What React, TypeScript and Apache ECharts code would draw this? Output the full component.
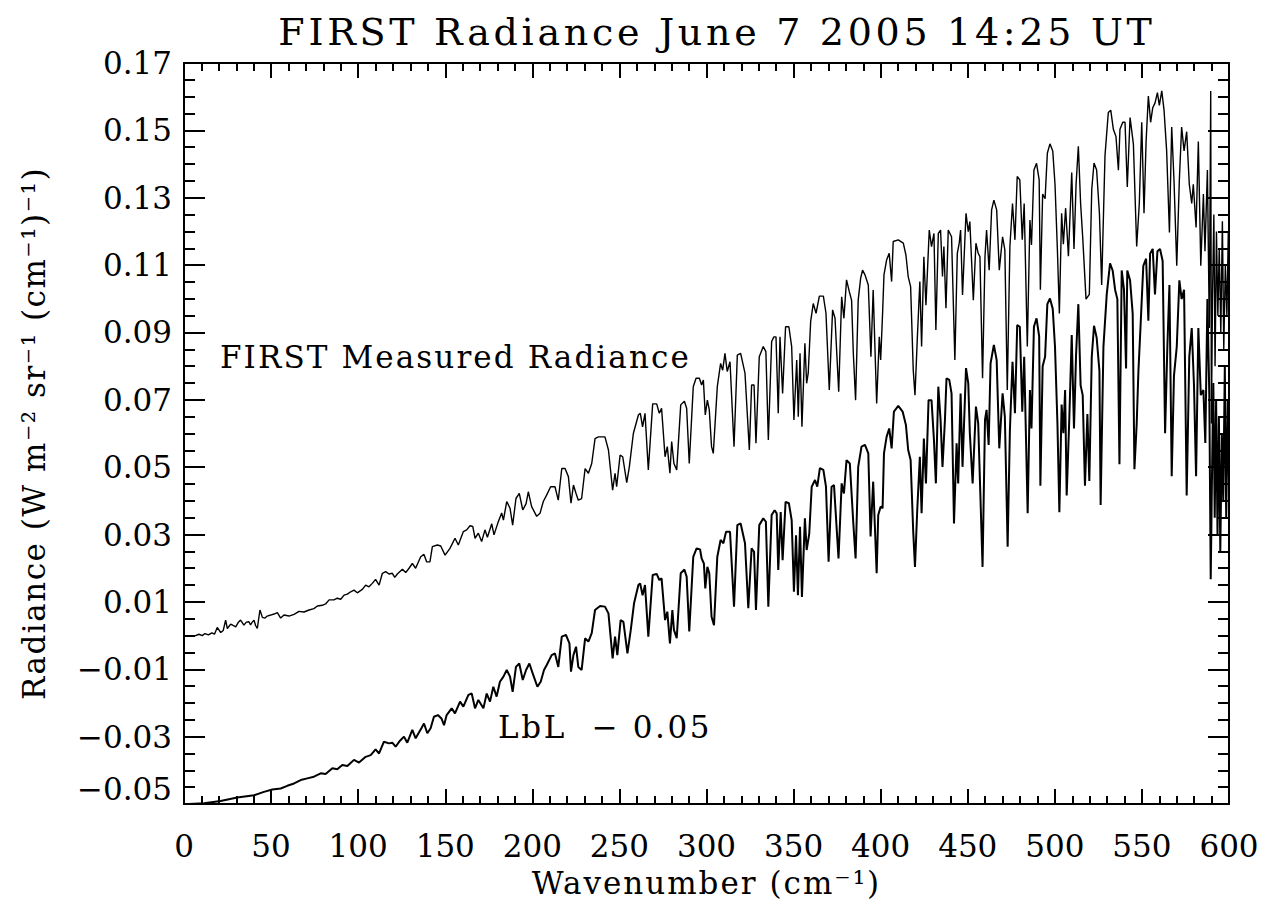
import React, { useEffect, useRef } from "react";
import * as echarts from "echarts";

// Wavenumber range and tick layout (cm^-1)
const xMin = 0;
const xMax = 600;
const xInterval = 50;
const xMinorSplit = 5;

// Radiance axis: -0.05 .. 0.17, labelled every 0.02
const yMin = -0.05;
const yMax = 0.17;
const yInterval = 0.02;
const yMinorSplit = 4;

const titleText = "FIRST Radiance June 7 2005 14:25 UT";
const xName = "Wavenumber (cm\u207B\u00B9)";
const yName = "Radiance (W m\u207B\u00B2 sr\u207B\u00B9 (cm\u207B\u00B9)\u207B\u00B9)";
const measuredLabel = "FIRST Measured Radiance";
const lblLabel = "LbL  \u2212 0.05";

// FIRST measured radiance: [wavenumber, radiance]
const measuredSpectrum: [number, number][] = [
  [0, 0.0], [6.7, 0.0], [8.5, 0.0004], [10.5, 0.0], [12, 0.0006], [14, 0.0002], [16, 0.0008], [17.5, 0.0004],
  [19.1, 0.0024], [21.1, 0.0009], [22.5, 0.0015], [23.9, 0.0046], [24.9, 0.0021], [26.8, 0.0034], [28.2, 0.003],
  [29.7, 0.0026], [31, 0.0038], [32.5, 0.0046], [34.4, 0.0031], [35.8, 0.004], [37.3, 0.0041], [38.2, 0.0032],
  [39.2, 0.004], [40.2, 0.0046], [41.1, 0.003], [42.1, 0.0021], [43.6, 0.0076], [45.0, 0.0054], [46.5, 0.0052],
  [47.8, 0.0058], [49.8, 0.0061], [51.7, 0.0064], [53.6, 0.0068], [55.5, 0.0052], [57.4, 0.0061], [60.3, 0.0058],
  [63.2, 0.0063], [66.0, 0.0072], [68.9, 0.007], [71.8, 0.0076], [74.6, 0.008], [76.6, 0.0088], [79.4, 0.009],
  [81.3, 0.0094], [83.3, 0.0106], [86.1, 0.0106], [88.0, 0.0111], [90.0, 0.0108], [91.9, 0.012], [93.8, 0.0123],
  [95.7, 0.013], [97.6, 0.0135], [99.5, 0.0127], [102.4, 0.0137], [104.3, 0.015], [106.2, 0.0145], [108.1, 0.0155],
  [110.0, 0.0167], [112.0, 0.015], [113.9, 0.0185], [115.8, 0.019], [117.7, 0.0183], [119.6, 0.0185], [121.0, 0.0173],
  [122.5, 0.0183], [125.4, 0.0197], [127.3, 0.0187], [129.2, 0.02], [131.1, 0.0214], [133.0, 0.02], [135.9, 0.0234],
  [137.8, 0.0241], [139.3, 0.0219], [141.2, 0.0219], [142.6, 0.0264], [145.5, 0.0269], [147.4, 0.0266], [149.9, 0.0239],
  [152.7, 0.0259], [155.6, 0.0289], [157.5, 0.0269], [160.4, 0.0309], [162.3, 0.0314], [164.2, 0.0326], [165.8, 0.0324],
  [167.1, 0.0289], [169.0, 0.0304], [170.9, 0.0279], [172.8, 0.0314], [174.2, 0.0292], [176.7, 0.0332], [178.0, 0.0299],
  [180.5, 0.0339], [182.4, 0.0364], [183.4, 0.0343], [185.3, 0.0398], [187.2, 0.0378], [188.7, 0.0328], [190.6, 0.0407],
  [192.5, 0.0422], [194.5, 0.0373], [196.4, 0.0392], [197.7, 0.0427], [199.6, 0.0383], [202.5, 0.0354], [204.4, 0.0363],
  [206.3, 0.0398], [208.2, 0.0417], [210.5, 0.0442], [213.0, 0.0442], [214.9, 0.0402], [216.9, 0.0496], [218.8, 0.0496],
  [220.7, 0.0472], [222.2, 0.0393], [223.6, 0.0447], [225.1, 0.0422], [226.4, 0.0402], [228.3, 0.0407], [230.3, 0.0496],
  [232.2, 0.0482], [234.1, 0.0511], [236.0, 0.0585], [237.9, 0.059], [241.7, 0.059], [243.7, 0.0551], [246.1, 0.0432],
  [247.5, 0.0482], [248.4, 0.0442], [250.4, 0.0536], [251.9, 0.0531], [254.2, 0.0454], [255.7, 0.0501], [258.0, 0.06],
  [260.9, 0.0655], [262.0, 0.066], [263.3, 0.062], [264.7, 0.066], [266.6, 0.0492], [269.1, 0.0688], [271.4, 0.0688],
  [272.9, 0.066], [274.2, 0.0675], [276.2, 0.0531], [277.5, 0.0561], [279.0, 0.0482], [280.0, 0.0576], [281.3, 0.0511],
  [282.9, 0.0492], [285.2, 0.0685], [287.3, 0.0696], [288.6, 0.0675], [290.1, 0.0511], [292.4, 0.0739], [294.0, 0.0764],
  [295.9, 0.0764], [297.2, 0.0744], [298.2, 0.0759], [299.3, 0.0655], [300.5, 0.0699], [301.6, 0.067], [302.9, 0.0561],
  [303.9, 0.0541], [306.2, 0.0739], [308.1, 0.0808], [309.3, 0.0788], [310.6, 0.0838], [311.9, 0.0784], [313.5, 0.0813],
  [315.8, 0.0561], [317.7, 0.0833], [319.6, 0.0838], [322.1, 0.0779], [324.6, 0.0551], [325.9, 0.0744], [327.3, 0.0744],
  [328.4, 0.0571], [330.3, 0.0828], [332.6, 0.0858], [334.1, 0.0843], [335.5, 0.0581], [337.4, 0.0873], [338.7, 0.0887],
  [339.9, 0.0887], [341.2, 0.066], [342.2, 0.0887], [343.7, 0.0719], [345.4, 0.0917], [347.3, 0.0917], [348.9, 0.0858],
  [350.2, 0.064], [351.8, 0.0818], [352.7, 0.065], [353.7, 0.0838], [354.8, 0.062], [356.5, 0.0868], [357.5, 0.0749],
  [358.4, 0.0779], [359.8, 0.0932], [361.3, 0.0986], [362.9, 0.0957], [364.8, 0.1008], [367.1, 0.1008], [368.6, 0.0957],
  [370.5, 0.0729], [372.4, 0.0967], [373.8, 0.0942], [375.9, 0.0724], [377.6, 0.1006], [378.9, 0.0942], [380.4, 0.1056],
  [382.0, 0.1021], [383.3, 0.0996], [384.3, 0.0838], [385.6, 0.0699], [387.1, 0.0996], [388.5, 0.1061], [389.6, 0.1085],
  [391.0, 0.1071], [392.9, 0.1041], [394.4, 0.0828], [395.7, 0.1026], [397.7, 0.0689], [399.2, 0.0887], [400.0, 0.0818],
  [401.1, 0.0957], [401.9, 0.1071], [403.4, 0.1115], [404.9, 0.1135], [406.3, 0.1051], [407.2, 0.117], [410.1, 0.1175],
  [413.0, 0.1165], [414.5, 0.113], [415.8, 0.1066], [417.2, 0.1036], [418.7, 0.0789], [419.7, 0.0714], [421.0, 0.0877],
  [422.5, 0.1051], [423.5, 0.0858], [424.8, 0.1125], [426.0, 0.0981], [427.9, 0.1204], [429.2, 0.1155], [430.6, 0.1194],
  [431.7, 0.0907], [433.1, 0.1194], [434.4, 0.1204], [435.5, 0.1066], [436.3, 0.1155], [437.5, 0.0972], [438.8, 0.1204],
  [440.7, 0.1184], [442.6, 0.0818], [444.0, 0.1135], [445.1, 0.1165], [445.9, 0.1204], [447.0, 0.1011], [449.0, 0.1254],
  [450.3, 0.1199], [451.2, 0.1229], [453.2, 0.0996], [454.7, 0.1165], [456.0, 0.1135], [457.0, 0.1125], [458.5, 0.0764],
  [459.9, 0.1125], [460.8, 0.1204], [462.3, 0.1085], [463.7, 0.1264], [465.0, 0.1293], [466.6, 0.1264], [468.1, 0.1085],
  [470.0, 0.1184], [471.3, 0.1145], [472.7, 0.0729], [474.2, 0.1155], [475.7, 0.1283], [477.1, 0.1175], [478.4, 0.1363],
  [479.9, 0.1353], [481.3, 0.1175], [482.4, 0.1283], [484.2, 0.0858], [485.7, 0.1234], [486.6, 0.116], [488.0, 0.1382],
  [489.5, 0.1402], [491.0, 0.1353], [491.7, 0.1027], [493.0, 0.1311], [494.4, 0.1297], [495.7, 0.1432], [497.2, 0.146],
  [498.8, 0.1439], [500.1, 0.134], [501.5, 0.1141], [502.6, 0.0956], [503.9, 0.1254], [504.9, 0.1162], [506.2, 0.1269],
  [507.8, 0.1126], [509.7, 0.1375], [511.0, 0.1148], [512.2, 0.134], [513.5, 0.1453], [514.8, 0.1283], [516.0, 0.1183],
  [517.9, 0.0999], [519.8, 0.1013], [521.2, 0.1325], [522.5, 0.1403], [524.0, 0.1382], [525.6, 0.1254], [526.9, 0.1041],
  [528.8, 0.1425], [530.7, 0.1553], [532.1, 0.156], [533.6, 0.1503], [535.1, 0.1482], [536.5, 0.1382], [537.4, 0.1503],
  [539.0, 0.1524], [540.3, 0.1524], [541.6, 0.1332], [543.2, 0.1538], [545.1, 0.146], [547.0, 0.1155], [548.5, 0.1283],
  [549.9, 0.1524], [551.2, 0.1254], [552.4, 0.1467], [553.7, 0.1602], [555.0, 0.1524], [556.2, 0.1567], [557.5, 0.1581],
  [558.9, 0.1612], [560.0, 0.1574], [561.4, 0.1617], [562.7, 0.156], [564.2, 0.1439], [565.8, 0.1197], [567.1, 0.151],
  [568.4, 0.1354], [570.0, 0.1098], [571.5, 0.1354], [572.8, 0.151], [574.2, 0.1439], [575.7, 0.1496], [577.2, 0.134],
  [578.6, 0.1283], [579.5, 0.134], [581.1, 0.1212], [582.4, 0.1467], [583.8, 0.1098], [585.3, 0.1311], [586.2, 0.1141],
  [587.6, 0.1382], [588.7, 0.0913], [589.5, 0.1617], [589.9, 0.063], [590.5, 0.1], [591.3, 0.125], [592.0, 0.08],
  [592.8, 0.12], [593.6, 0.095], [594.4, 0.115], [595.3, 0.09], [596.2, 0.123], [597.0, 0.085], [597.9, 0.11],
  [598.8, 0.095], [599.6, 0.12], [600, 0.1]
];

// Line-by-line model radiance minus 0.05: [wavenumber, radiance - 0.05]
const lblMinus005Spectrum: [number, number][] = [
  [0, -0.0501], [11.5, -0.0498], [21, -0.0491], [30.6, -0.0481], [40.2, -0.0474], [45.9, -0.0464], [50.7, -0.0457],
  [55.5, -0.0454], [59.3, -0.0446], [63.2, -0.0439], [67.0, -0.0429], [70.8, -0.0424], [74.6, -0.0419], [78.5, -0.0409],
  [81.3, -0.0411], [85.2, -0.0394], [88.0, -0.0397], [90.9, -0.0384], [93.8, -0.0387], [97.6, -0.0369], [100.5, -0.0377],
  [104.3, -0.036], [107.2, -0.0355], [110.0, -0.0338], [112.0, -0.035], [114.8, -0.0315], [117.7, -0.032], [119.6, -0.0318],
  [121.5, -0.033], [124.0, -0.0312], [126.3, -0.03], [128.2, -0.0318], [131.1, -0.028], [133.0, -0.0305], [136.3, -0.0275],
  [137.8, -0.0261], [139.7, -0.029], [141.6, -0.0275], [143.5, -0.0241], [145.8, -0.0236], [147.8, -0.0246], [149.3, -0.0266],
  [150.8, -0.0236], [153.7, -0.0216], [155.6, -0.0231], [158.5, -0.0196], [160.4, -0.0211], [163.3, -0.0176], [165.2, -0.0172],
  [167.1, -0.0216], [169.0, -0.0191], [171.9, -0.0216], [173.8, -0.0172], [175.7, -0.0196], [177.6, -0.0152], [179.5, -0.0181],
  [181.4, -0.0137], [183.4, -0.0122], [185.3, -0.0102], [187.2, -0.0122], [188.7, -0.0167], [190.6, -0.0093], [192.5, -0.0083],
  [194.5, -0.0132], [196.4, -0.0102], [198.3, -0.0083], [200.2, -0.0112], [202.9, -0.0152], [204.8, -0.0137], [206.7, -0.0102],
  [208.2, -0.0088], [211.1, -0.0058], [213.0, -0.0053], [214.9, -0.0093], [216.9, -0.0003], [219.3, 0.0002], [221.3, -0.0023],
  [222.2, -0.0107], [223.6, -0.0058], [225.1, -0.0033], [226.4, -0.0093], [228.3, -0.0102], [230.3, -0.0008], [232.2, -0.0018],
  [234.1, 0.0007], [236.0, 0.0076], [238.9, 0.0088], [241.7, 0.0086], [243.7, 0.0066], [246.1, -0.0068], [247.5, -0.0003],
  [248.8, -0.0058], [250.7, 0.0046], [252.3, 0.0041], [254.6, -0.0053], [256.5, 0.0016], [258.4, 0.0096], [260.9, 0.015],
  [261.9, 0.0155], [263.3, 0.012], [264.7, 0.015], [266.6, -0.0003], [269.1, 0.018], [271.4, 0.0183], [272.9, 0.0165],
  [274.2, 0.017], [276.2, 0.0046], [277.5, 0.0071], [279.0, -0.0023], [280.4, 0.0076], [281.3, 0.0017], [282.9, -0.0008],
  [285.2, 0.0185], [287.3, 0.0196], [288.6, 0.0175], [290.1, 0.0012], [292.4, 0.0234], [294.3, 0.0259], [296.3, 0.0256],
  [297.2, 0.0229], [298.5, 0.0214], [299.3, 0.014], [300.5, 0.0204], [301.6, 0.0185], [302.9, 0.0056], [304.3, 0.0031],
  [306.2, 0.0234], [308.1, 0.0284], [309.7, 0.0274], [311.2, 0.0308], [313.5, 0.0308], [315.8, 0.0086], [317.7, 0.0328],
  [319.6, 0.0333], [322.1, 0.0274], [324.0, 0.0081], [325.9, 0.0259], [327.3, 0.0249], [328.4, 0.0076], [330.3, 0.0328],
  [332.6, 0.0348], [334.1, 0.0338], [335.5, 0.0086], [337.4, 0.0358], [339.1, 0.0372], [340.3, 0.0363], [341.2, 0.0195],
  [342.6, 0.0367], [343.7, 0.0224], [345.4, 0.0397], [347.3, 0.0393], [348.9, 0.0343], [350.2, 0.013], [351.4, 0.0298],
  [352.5, 0.012], [353.7, 0.0323], [354.8, 0.0115], [356.5, 0.0348], [357.5, 0.0254], [359.0, 0.0303], [360.4, 0.0442],
  [362.3, 0.0462], [363.6, 0.0442], [365.1, 0.0497], [367.1, 0.0492], [368.6, 0.0442], [370.1, 0.0219], [371.8, 0.0442],
  [373.2, 0.0447], [375.8, 0.0229], [377.6, 0.0452], [378.9, 0.0422], [380.4, 0.0521], [382.3, 0.0511], [384.3, 0.0333],
  [385.6, 0.0229], [387.1, 0.0501], [389.0, 0.0561], [391.0, 0.0566], [392.9, 0.0541], [394.2, 0.0294], [395.7, 0.0457],
  [397.7, 0.0185], [398.6, 0.0358], [400.0, 0.0383], [401.1, 0.0378], [401.9, 0.0541], [403.4, 0.059], [404.9, 0.0615],
  [406.3, 0.0556], [407.6, 0.0665], [410.1, 0.0682], [412.6, 0.0665], [414.5, 0.0625], [415.8, 0.0551], [417.2, 0.0521],
  [418.7, 0.0308], [419.7, 0.0204], [421.0, 0.0373], [422.5, 0.0531], [423.5, 0.0363], [424.8, 0.0585], [426.0, 0.0452],
  [427.5, 0.0699], [429.2, 0.0699], [430.6, 0.058], [431.7, 0.0452], [433.1, 0.0739], [434.4, 0.064], [435.5, 0.0501],
  [436.9, 0.064], [437.8, 0.0764], [439.4, 0.0759], [440.7, 0.0719], [442.1, 0.0333], [443.6, 0.0571], [444.5, 0.0452],
  [445.9, 0.0719], [447.0, 0.0501], [449.0, 0.0794], [450.3, 0.0749], [451.2, 0.06], [452.8, 0.0452], [454.7, 0.068],
  [456.0, 0.063], [458.5, 0.0204], [459.9, 0.064], [460.8, 0.067], [462.0, 0.0566], [463.1, 0.0808], [465.0, 0.0863],
  [466.6, 0.0818], [468.1, 0.0556], [470.0, 0.0719], [471.3, 0.065], [472.9, 0.0264], [474.2, 0.061], [475.7, 0.0813],
  [477.1, 0.066], [478.4, 0.0922], [479.9, 0.0917], [481.3, 0.0665], [482.4, 0.0828], [484.4, 0.0363], [485.7, 0.0729],
  [486.6, 0.0615], [488.0, 0.0917], [489.5, 0.0942], [491.0, 0.0888], [491.7, 0.0445], [493.0, 0.08], [494.4, 0.0828],
  [495.7, 0.0984], [497.2, 0.1001], [498.8, 0.097], [500.1, 0.0857], [501.5, 0.0629], [502.6, 0.0366], [503.9, 0.0686],
  [504.9, 0.0601], [505.9, 0.0729], [506.8, 0.0416], [508.3, 0.0643], [509.7, 0.0892], [511.0, 0.0615], [512.2, 0.0835],
  [513.5, 0.0984], [514.8, 0.0743], [516.0, 0.0714], [517.3, 0.0445], [518.7, 0.0658], [519.8, 0.0459], [521.2, 0.0828],
  [522.5, 0.092], [524.0, 0.0885], [525.6, 0.0786], [526.3, 0.0388], [527.9, 0.0857], [529.8, 0.1013], [531.7, 0.1105],
  [533.2, 0.1084], [534.6, 0.1027], [535.9, 0.0999], [537.1, 0.0509], [538.4, 0.1084], [539.7, 0.1027], [540.9, 0.0793],
  [541.6, 0.1084], [543.2, 0.1055], [544.7, 0.0956], [545.7, 0.0494], [547.0, 0.0629], [548.0, 0.0786], [549.3, 0.0928],
  [550.8, 0.1098], [552.4, 0.1119], [553.7, 0.0935], [554.7, 0.1134], [556.2, 0.1148], [557.5, 0.1013], [558.9, 0.1141],
  [560.4, 0.1148], [561.9, 0.1112], [563.3, 0.0601], [564.6, 0.0857], [565.8, 0.1041], [567.1, 0.0473], [568.4, 0.0771],
  [570.0, 0.0857], [571.5, 0.1055], [572.8, 0.0999], [574.2, 0.1027], [575.7, 0.0416], [577.2, 0.0828], [578.6, 0.0913],
  [579.9, 0.0743], [581.1, 0.0473], [582.4, 0.0913], [583.8, 0.0714], [585.3, 0.0729], [586.4, 0.0572], [587.6, 0.0999],
  [588.7, 0.0714], [589.5, 0.0167], [590.3, 0.05], [591.0, 0.075], [591.8, 0.035], [592.6, 0.07], [593.4, 0.03],
  [594.2, 0.065], [595.0, 0.025], [595.9, 0.06], [596.7, 0.04], [597.6, 0.08], [598.4, 0.035], [599.3, 0.07], [600, 0.045]
];

const FONT = '"DejaVu Serif", "Liberation Serif", serif';
const LINE = "#000000";

// shift so that the axis minimum is a multiple of the tick interval
const shift = -yMin;

function fmtY(v: number): string {
  const r = Math.round((v - shift) * 100) / 100;
  return r < 0 ? "\u2212" + Math.abs(r).toFixed(2) : r.toFixed(2);
}

// extra letter spacing (px) to mimic the wide vector font of the original
const letterSpacing: Record<string, number> = {
  [titleText]: 3.7,
  [measuredLabel]: 2.1,
  [lblLabel]: 2.6,
  [yName]: 1.5,
  [xName]: 2.0,
};

export default function App() {
  const ref = useRef<HTMLDivElement>(null);
  useEffect(() => {
    if (!ref.current) return;
    const chart = echarts.init(ref.current, undefined, { renderer: "svg" });
    const axisLine = { show: true, onZero: false, lineStyle: { color: LINE, width: 2 } };
    const xAxisBase = {
      type: "value" as const,
      min: xMin,
      max: xMax,
      interval: xInterval,
      axisLine,
      axisTick: { show: true, inside: true, length: 15, lineStyle: { color: LINE, width: 2 } },
      minorTick: { show: true, splitNumber: xMinorSplit, length: 8, lineStyle: { color: LINE, width: 2 } },
      splitLine: { show: false },
      minorSplitLine: { show: false },
    };
    const yAxisBase = {
      type: "value" as const,
      min: 0,
      max: yMax - yMin,
      interval: yInterval,
      axisLine,
      axisTick: { show: true, inside: true, length: 21, lineStyle: { color: LINE, width: 2 } },
      minorTick: { show: true, splitNumber: yMinorSplit, length: 11, lineStyle: { color: LINE, width: 2 } },
      splitLine: { show: false },
      minorSplitLine: { show: false },
    };
    chart.setOption({
      animation: false,
      backgroundColor: "#ffffff",
      grid: { left: 184, right: 36, top: 63, bottom: 101, containLabel: false },
      xAxis: [
        {
          ...xAxisBase,
          position: "bottom",
          name: xName,
          nameLocation: "middle",
          nameGap: 63,
          nameTextStyle: { fontFamily: FONT, fontSize: 31, color: LINE },
          axisLabel: { fontFamily: FONT, fontSize: 31, color: LINE, margin: 26 },
        },
        { ...xAxisBase, position: "top", axisLabel: { show: false } },
      ],
      yAxis: [
        {
          ...yAxisBase,
          position: "left",
          name: yName,
          nameLocation: "middle",
          nameGap: 135,
          nameTextStyle: { fontFamily: FONT, fontSize: 31, color: LINE },
          axisLabel: {
            fontFamily: FONT,
            fontSize: 31,
            color: LINE,
            margin: 12,
            formatter: fmtY,
            verticalAlignMinLabel: "bottom",
            verticalAlignMaxLabel: "top",
          },
        },
        { ...yAxisBase, position: "right", axisLabel: { show: false } },
      ],
      series: [
        {
          type: "line",
          name: "FIRST",
          xAxisIndex: 0,
          yAxisIndex: 0,
          showSymbol: false,
          symbol: "none",
          data: measuredSpectrum.map(([w, r]) => [w, r + shift]),
          lineStyle: { color: LINE, width: 1.4 },
          clip: true,
        },
        {
          type: "line",
          name: "LbL",
          xAxisIndex: 0,
          yAxisIndex: 0,
          showSymbol: false,
          symbol: "none",
          data: lblMinus005Spectrum.map(([w, r]) => [w, r + shift]),
          lineStyle: { color: LINE, width: 2 },
          clip: true,
        },
      ],
      graphic: [
        {
          type: "text",
          x: 717,
          y: 32,
          style: { text: titleText, fill: LINE, font: `38px ${FONT}`, textAlign: "center", textVerticalAlign: "middle" },
        },
        {
          type: "text",
          x: 220,
          y: 357,
          style: { text: measuredLabel, fill: LINE, font: `31px ${FONT}`, textAlign: "left", textVerticalAlign: "middle" },
        },
        {
          type: "text",
          x: 498,
          y: 727,
          style: { text: lblLabel, fill: LINE, font: `31px ${FONT}`, textAlign: "left", textVerticalAlign: "middle" },
        },
      ],
    });
    const root = ref.current;
    root.querySelectorAll("text").forEach((t) => {
      const s = letterSpacing[t.textContent || ""];
      if (s) (t as SVGTextElement).style.letterSpacing = `${s}px`;
    });
    return () => chart.dispose();
  }, []);
  return (
    <div
      ref={ref}
      style={{ position: "fixed", left: 0, top: 0, width: 1265, height: 905, background: "#fff" }}
    />
  );
}
